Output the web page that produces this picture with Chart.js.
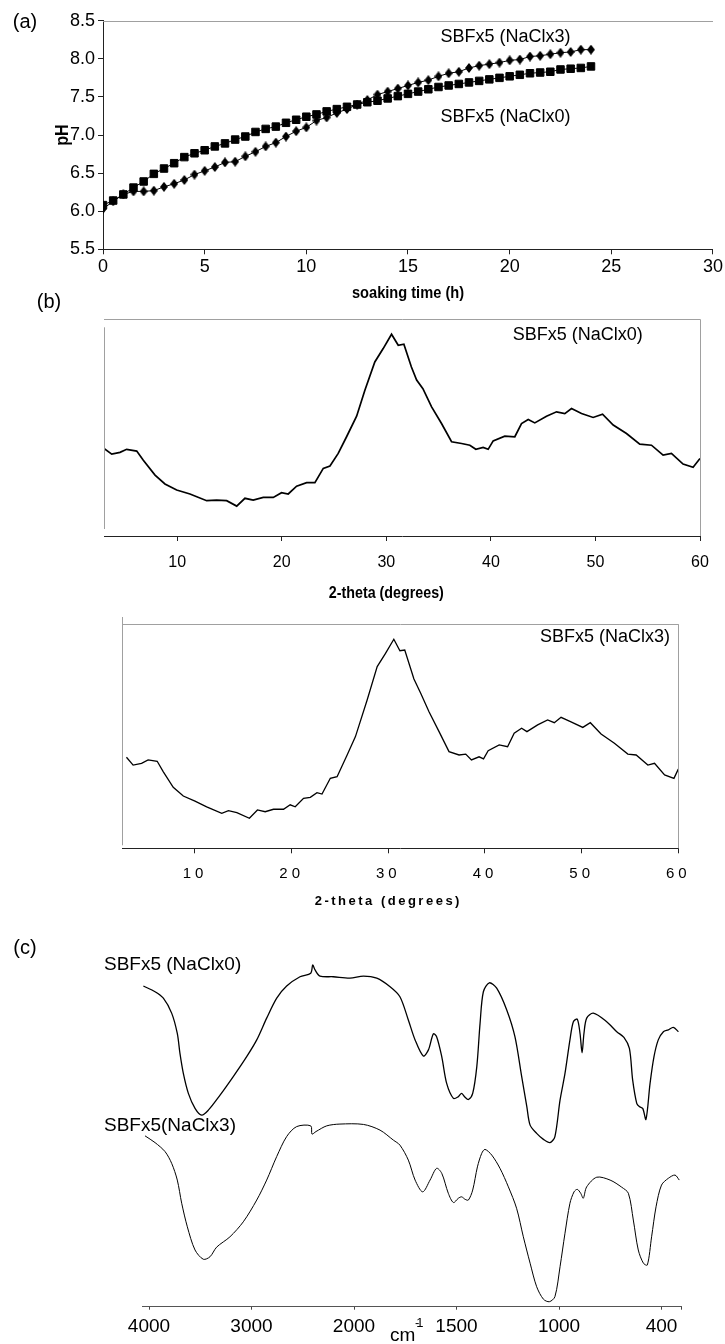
<!DOCTYPE html>
<html>
<head>
<meta charset="utf-8">
<script src="https://cdn.jsdelivr.net/npm/chart.js@4.4.1/dist/chart.umd.min.js"></script>
<style>
  html, body { margin: 0; padding: 0; background: #fff; }
  #page { position: relative; width: 725px; height: 1344px; overflow: hidden; }
  #page canvas { position: absolute; left: 0; }
</style>
</head>
<body>
<div id="page">
  <canvas id="phChart" width="725" height="310" style="top:0px"></canvas>
  <canvas id="xrd0Chart" width="725" height="325" style="top:285px"></canvas>
  <canvas id="xrd3Chart" width="725" height="300" style="top:610px"></canvas>
  <canvas id="irChart" width="725" height="414" style="top:930px"></canvas>
</div>
<script>
// (a) pH vs soaking time
const phTime = [0, 0.5, 1, 1.5, 2, 2.5, 3, 3.5, 4, 4.5, 5, 5.5, 6, 6.5, 7, 7.5, 8, 8.5, 9, 9.5,
  10, 10.5, 11, 11.5, 12, 12.5, 13, 13.5, 14, 14.5, 15, 15.5, 16, 16.5, 17, 17.5, 18, 18.5, 19, 19.5,
  20, 20.5, 21, 21.5, 22, 22.5, 23, 23.5, 24];
const phNaCl0 = [6.08, 6.14, 6.22, 6.31, 6.39, 6.49, 6.56, 6.63, 6.71, 6.76,
  6.80, 6.85, 6.89, 6.94, 6.98, 7.04, 7.08, 7.11, 7.16, 7.20,
  7.24, 7.27, 7.31, 7.34, 7.37, 7.40, 7.43, 7.45, 7.48, 7.51,
  7.54, 7.57, 7.60, 7.63, 7.65, 7.67, 7.69, 7.71, 7.73, 7.75,
  7.77, 7.79, 7.81, 7.82, 7.83, 7.86, 7.87, 7.88, 7.90];
const phNaCl3 = [6.03, 6.13, 6.22, 6.26, 6.26, 6.27, 6.32, 6.36, 6.41, 6.48,
  6.53, 6.58, 6.64, 6.65, 6.72, 6.78, 6.85, 6.90, 6.98, 7.05,
  7.10, 7.19, 7.23, 7.29, 7.34, 7.40, 7.46, 7.53, 7.57, 7.61,
  7.65, 7.69, 7.72, 7.77, 7.81, 7.83, 7.88, 7.91, 7.93, 7.95,
  7.98, 7.99, 8.03, 8.04, 8.06, 8.08, 8.09, 8.12, 8.12];

// (b) XRD patterns
const xrdTicks = [10, 20, 30, 40, 50, 60];
const xrd0Angle = [3.0, 3.74, 4.53, 5.17, 6.13, 6.76, 7.88, 8.83, 9.95,
  11.22, 12.82, 13.77, 14.73, 15.69, 16.48, 17.27, 18.23, 19.19, 19.98,
  20.62, 21.42, 22.38, 23.17, 23.97, 24.61, 25.4, 26.2, 27.16, 27.95,
  28.9, 29.7, 30.5, 31.14, 31.68, 32.4, 32.9, 33.5, 34.33, 35.28,
  36.24, 37.2, 37.99, 38.56, 39.26, 39.74, 40.22, 41.33, 42.29, 42.93,
  43.57, 44.2, 45.32, 46.28, 47.07, 47.71, 48.67, 49.78, 50.68, 51.7,
  52.97, 54.24, 55.36, 56.47, 57.27, 58.38, 59.34, 60.0];
const xrd0Count = [40.4, 37.8, 38.6, 40.0, 39.2, 35.0, 28.1, 24.0, 21.2,
  19.4, 16.3, 16.6, 16.3, 13.8, 17.4, 16.6, 17.8, 17.8, 20.0,
  19.4, 23.0, 24.6, 24.6, 31.2, 32.3, 38.1, 45.8, 55.3, 67.3,
  80.3, 86.5, 93.1, 88.0, 88.5, 78.0, 72.0, 68.0, 59.6, 51.9,
  43.5, 42.7, 41.9, 40.0, 40.9, 40.0, 43.9, 46.1, 45.8, 51.9,
  53.8, 52.2, 55.3, 57.3, 56.5, 58.8, 56.5, 54.7, 56.2, 51.2,
  47.3, 42.4, 41.9, 37.3, 38.1, 33.2, 31.7, 35.8];
const xrd3Angle = [2.91, 3.6, 4.47, 5.15, 6.09, 6.71, 7.75, 8.79, 10.0, 11.21,
  12.77, 13.46, 14.33, 15.63, 16.46, 17.26, 18.12, 19.16, 19.85, 20.37,
  21.23, 21.93, 22.62, 23.14, 24.0, 24.7, 25.74, 26.6, 27.81, 28.85,
  29.71, 30.57, 31.2, 31.7, 32.65, 33.35, 34.21, 35.25, 36.28, 37.32,
  38.01, 38.6, 39.39, 39.85, 40.33, 41.47, 42.34, 43.02, 43.79, 44.34,
  45.45, 46.48, 47.17, 47.87, 48.9, 50.12, 50.9, 52.01, 53.39, 54.78,
  55.64, 56.85, 57.54, 58.58, 59.55, 60.0];
const xrd3Count = [40.6, 37.1, 37.9, 39.4, 38.8, 34.2, 27.2, 23.3, 21.0, 18.5,
  15.6, 16.8, 15.9, 13.4, 17.1, 16.3, 17.4, 17.4, 19.4, 18.5,
  22.3, 22.7, 24.8, 24.2, 31.2, 31.9, 41.6, 49.8, 66.1, 81.0,
  86.9, 93.2, 88.1, 88.4, 75.5, 69.1, 60.9, 52.0, 43.1, 41.6,
  42.0, 39.4, 40.8, 39.9, 43.5, 46.1, 45.3, 51.3, 53.5, 52.0,
  55.0, 57.2, 56.0, 58.4, 56.4, 53.9, 56.0, 51.0, 46.8, 42.0,
  41.6, 37.1, 37.9, 32.7, 31.2, 35.3];

// (c) FTIR spectra (wavenumber axis has evenly spaced, non-linear ticks)
const irTicks = [4000, 3000, 2000, 1500, 1000, 400];
const ir0Wave = [4055, 3941, 3860, 3779, 3724, 3698, 3665, 3616, 3551, 3486,
  3421, 3307, 3178, 3047, 2949, 2852, 2754, 2657, 2527, 2422,
  2403, 2380, 2332, 2202, 2039, 1954, 1889, 1824, 1776, 1735,
  1702, 1662, 1637, 1613, 1597, 1572, 1548, 1515, 1491, 1475,
  1458, 1442, 1421, 1401, 1385, 1369, 1340, 1304, 1255, 1215,
  1182, 1157, 1141, 1109, 1076, 1044, 1020, 994, 965, 936,
  916, 893, 877, 865, 854, 838, 799, 721, 662, 620,
  588, 569, 545, 530, 510, 491, 467, 444, 419, 389,
  360, 331, 301];
const ir0Trans = [89.9, 88.3, 86.5, 82.3, 76.6, 71.0, 65.4, 59.8, 55.6, 53.7,
  55.1, 59.3, 64.5, 70.1, 74.8, 80.9, 86.5, 89.9, 92.5, 93.5,
  95.8, 94.4, 92.7, 92.5, 92.1, 92.7, 92.1, 89.7, 86.9, 80.4,
  74.8, 70.3, 72.0, 76.5, 75.7, 70.1, 62.6, 58.4, 58.9, 59.8,
  58.7, 58.1, 59.8, 67.3, 79.5, 88.3, 90.8, 89.3, 83.2, 75.7,
  64.5, 56.1, 50.9, 48.6, 46.9, 46.0, 47.7, 57.9, 65.4, 74.8,
  79.9, 80.6, 76.6, 71.2, 76.6, 80.9, 82.3, 79.9, 77.1, 75.5,
  72.4, 63.6, 57.0, 56.1, 55.6, 52.5, 62.6, 70.1, 74.8, 77.1,
  77.6, 78.3, 77.1];
const ir3Wave = [4039, 3941, 3844, 3779, 3724, 3681, 3626, 3551, 3470, 3405,
  3340, 3210, 3080, 2949, 2852, 2754, 2657, 2559, 2422, 2410,
  2371, 2266, 2137, 1954, 1873, 1808, 1776, 1735, 1702, 1665,
  1629, 1597, 1572, 1540, 1515, 1491, 1475, 1458, 1442, 1421,
  1398, 1377, 1361, 1328, 1288, 1247, 1207, 1174, 1141, 1109,
  1076, 1047, 1020, 994, 965, 936, 912, 893, 873, 858,
  838, 779, 701, 633, 594, 565, 536, 506, 483, 458,
  432, 400, 360, 321, 296];
const ir3Trans = [47.9, 46.0, 43.5, 40.2, 35.5, 29.0, 22.4, 15.9, 13.3, 14.0,
  16.7, 19.6, 23.8, 29.9, 35.5, 42.1, 47.7, 50.5, 50.7, 48.4,
  49.1, 50.7, 51.2, 51.1, 49.5, 46.7, 45.3, 41.1, 35.5, 32.2,
  35.5, 38.8, 37.4, 31.8, 29.2, 30.4, 30.8, 30.1, 29.9, 32.7,
  39.2, 43.0, 44.1, 42.5, 38.8, 33.6, 27.6, 19.6, 12.2, 5.6,
  2.1, 1.4, 2.8, 11.2, 20.6, 29.0, 32.2, 32.9, 31.8, 30.4,
  33.6, 36.3, 35.5, 33.5, 31.8, 24.3, 15.9, 12.2, 11.7, 19.6,
  28.0, 34.1, 36.0, 36.9, 35.5];

const SANS = '"Liberation Sans", Arial, sans-serif';
const GREY = '#a0a0a0';
const AXIS = '#222';

Chart.defaults.font.family = SANS;
Chart.defaults.color = '#000';

function pairs(xs, ys) {
  return xs.map((x, i) => ({ x: x, y: ys[i] }));
}

// padding that puts the plot area at a fixed place in the canvas
function padFor(canvasW, canvasH, area, xAxisH, yAxisW) {
  return {
    left: area.left - yAxisW,
    top: area.top,
    right: canvasW - area.right,
    bottom: canvasH - area.bottom - xAxisH
  };
}

function text(ctx, s, x, y, font, align, spacing, squeeze) {
  ctx.save();
  ctx.translate(x, y);
  if (squeeze) ctx.scale(squeeze, 1);
  ctx.font = font;
  ctx.fillStyle = '#000';
  ctx.textAlign = align || 'left';
  ctx.textBaseline = 'middle';
  ctx.letterSpacing = spacing || '0px';
  ctx.fillText(s, 0, 0);
  ctx.restore();
}

function line(ctx, x1, y1, x2, y2, color, w) {
  ctx.save();
  ctx.strokeStyle = color;
  ctx.lineWidth = w || 1;
  ctx.beginPath();
  ctx.moveTo(x1, y1);
  ctx.lineTo(x2, y2);
  ctx.stroke();
  ctx.restore();
}

function diamondMarker(w, h) {
  const c = document.createElement('canvas');
  c.width = w;
  c.height = h;
  const g = c.getContext('2d');
  g.fillStyle = '#000';
  g.beginPath();
  g.moveTo(w / 2, 0);
  g.lineTo(w, h / 2);
  g.lineTo(w / 2, h);
  g.lineTo(0, h / 2);
  g.closePath();
  g.fill();
  return c;
}

// wavenumber scale: ticks evenly spaced, linear between neighbouring ticks
function waveToUnit(w) {
  let i = 0;
  while (i < irTicks.length - 2 && w < irTicks[i + 1]) i++;
  return i + (irTicks[i] - w) / (irTicks[i] - irTicks[i + 1]);
}

class WaveScale extends Chart.LinearScale {
  determineDataLimits() {
    this.min = this.options.min;
    this.max = this.options.max;
  }
  buildTicks() {
    return irTicks.map(v => ({ value: v })).concat([{ value: this.max }]);
  }
  getPixelForValue(value) {
    const u0 = waveToUnit(this.min);
    const u1 = waveToUnit(this.max);
    return this.getPixelForDecimal((waveToUnit(value) - u0) / (u1 - u0));
  }
  getValueForPixel(pixel) {
    const u0 = waveToUnit(this.min);
    const u1 = waveToUnit(this.max);
    const u = u0 + this.getDecimalForPixel(pixel) * (u1 - u0);
    const i = Math.max(0, Math.min(irTicks.length - 2, Math.floor(u)));
    return irTicks[i] - (u - i) * (irTicks[i] - irTicks[i + 1]);
  }
}
WaveScale.id = 'wave';
WaveScale.defaults = {};
Chart.register(WaveScale);

// ---------- (a) ----------
const phArea = { left: 103, top: 20.7, right: 713, bottom: 249.3 };
const phDecor = {
  id: 'phDecor',
  afterDraw(chart) {
    const { ctx, chartArea: a, scales: { x, y } } = chart;
    line(ctx, a.left, Math.round(a.top) + 0.5, a.right, Math.round(a.top) + 0.5, GREY, 1);
    text(ctx, '(a)', 25, 22, '20px ' + SANS, 'center');
    text(ctx, 'SBFx5 (NaClx3)', x.getPixelForValue(16.6), y.getPixelForValue(8.29), '18px ' + SANS);
    text(ctx, 'SBFx5 (NaClx0)', x.getPixelForValue(16.6), y.getPixelForValue(7.24), '18px ' + SANS);
    text(ctx, 'soaking time (h)', (a.left + a.right) / 2, a.bottom + 44, 'bold 17px ' + SANS, 'center', '0px', 0.86);
    ctx.save();
    ctx.translate(63, (a.top + a.bottom) / 2);
    ctx.rotate(-Math.PI / 2);
    text(ctx, 'pH', 0, 0, 'bold 18px ' + SANS, 'center', '0px', 0.9);
    ctx.restore();
  }
};

new Chart(document.getElementById('phChart'), {
  type: 'line',
  data: {
    datasets: [
      {
        label: 'SBFx5 (NaClx3)',
        data: pairs(phTime, phNaCl3),
        borderColor: '#000',
        borderWidth: 1,
        pointStyle: diamondMarker(8, 10),
        pointBackgroundColor: '#000',
        pointBorderColor: '#000'
      },
      {
        label: 'SBFx5 (NaClx0)',
        data: pairs(phTime, phNaCl0),
        borderColor: '#000',
        borderWidth: 1,
        pointStyle: 'rect',
        pointRadius: 5.3,
        pointBorderWidth: 1,
        pointBackgroundColor: '#000',
        pointBorderColor: '#000'
      }
    ]
  },
  options: {
    responsive: false,
    animation: false,
    devicePixelRatio: 1,
    layout: { padding: padFor(725, 310, phArea, 310 - phArea.bottom, 103) },
    plugins: { legend: { display: false }, tooltip: { enabled: false } },
    scales: {
      x: {
        type: 'linear',
        min: 0,
        max: 30,
        afterFit: s => { s.height = 310 - phArea.bottom; },
        ticks: { stepSize: 5, padding: 2, font: { size: 18 }, color: '#000', maxRotation: 0 },
        grid: { drawOnChartArea: false, tickLength: 5, color: AXIS },
        border: { color: AXIS }
      },
      y: {
        min: 5.5,
        max: 8.5,
        afterFit: s => { s.width = 103; },
        ticks: { stepSize: 0.5, padding: 3, font: { size: 18 }, color: '#000',
          callback: v => v.toFixed(1) },
        grid: { drawOnChartArea: false, tickLength: 5, color: AXIS },
        border: { color: AXIS }
      }
    }
  },
  plugins: [phDecor]
});

// ---------- (b) upper XRD ----------
const xrd0Area = { left: 104, top: 34.3, right: 700, bottom: 251 };
const xrd0Decor = {
  id: 'xrd0Decor',
  afterDraw(chart) {
    const { ctx, chartArea: a, scales: { x, y } } = chart;
    const top = Math.round(a.top) + 0.5;
    line(ctx, a.left, top, a.right + 0.5, top, GREY, 1);
    line(ctx, Math.round(a.right) + 0.5, top, Math.round(a.right) + 0.5, a.bottom, GREY, 1);
    line(ctx, Math.round(a.left) + 0.5, a.top + 8, Math.round(a.left) + 0.5, a.bottom - 7, GREY, 1);
    text(ctx, '(b)', 49, 17, '20px ' + SANS, 'center');
    text(ctx, 'SBFx5 (NaClx0)', x.getPixelForValue(42.1), y.getPixelForValue(92.8), '18px ' + SANS);
    text(ctx, '2-theta (degrees)', x.getPixelForValue(30), a.bottom + 57.3, 'bold 17px ' + SANS, 'center', '0px', 0.84);
  }
};

new Chart(document.getElementById('xrd0Chart'), {
  type: 'line',
  data: {
    datasets: [{
      label: 'SBFx5 (NaClx0)',
      data: pairs(xrd0Angle, xrd0Count),
      borderColor: '#000',
      borderWidth: 1.7,
      pointRadius: 0,
      tension: 0
    }]
  },
  options: {
    responsive: false,
    animation: false,
    devicePixelRatio: 1,
    layout: { padding: padFor(725, 325, xrd0Area, 325 - xrd0Area.bottom, 0) },
    plugins: { legend: { display: false }, tooltip: { enabled: false } },
    scales: {
      x: {
        type: 'linear',
        min: 3,
        max: 60,
        afterFit: s => { s.height = 325 - xrd0Area.bottom; },
        afterBuildTicks: s => { s.ticks = xrdTicks.map(v => ({ value: v })); },
        ticks: { padding: 12, font: { size: 16 }, color: '#000', autoSkip: false, maxRotation: 0 },
        grid: { drawOnChartArea: false, tickLength: 5, color: AXIS },
        border: { color: AXIS }
      },
      y: { display: false, min: 0, max: 100 }
    }
  },
  plugins: [xrd0Decor]
});

// ---------- (b) lower XRD ----------
const xrd3Area = { left: 122.3, top: 14, right: 678.3, bottom: 238.3 };
const xrd3Decor = {
  id: 'xrd3Decor',
  beforeDraw(chart) {
    chart.ctx.letterSpacing = '4px';
  },
  afterDraw(chart) {
    const { ctx, chartArea: a, scales: { x, y } } = chart;
    ctx.letterSpacing = '0px';
    const top = Math.round(a.top) + 0.5;
    line(ctx, a.left, top, a.right + 0.5, top, GREY, 1);
    line(ctx, Math.round(a.right) + 0.5, top, Math.round(a.right) + 0.5, a.bottom, GREY, 1);
    line(ctx, Math.round(a.left) + 0.5, a.top - 7, Math.round(a.left) + 0.5, a.bottom - 3, GREY, 1);
    text(ctx, 'SBFx5 (NaClx3)', x.getPixelForValue(45.7), y.getPixelForValue(94.3), '18px ' + SANS);
    text(ctx, '2-theta (degrees)', x.getPixelForValue(30), a.bottom + 53.4, 'bold 13px ' + SANS, 'center', '2.5px');
  }
};

new Chart(document.getElementById('xrd3Chart'), {
  type: 'line',
  data: {
    datasets: [{
      label: 'SBFx5 (NaClx3)',
      data: pairs(xrd3Angle, xrd3Count),
      borderColor: '#000',
      borderWidth: 1.3,
      pointRadius: 0,
      tension: 0
    }]
  },
  options: {
    responsive: false,
    animation: false,
    devicePixelRatio: 1,
    layout: { padding: padFor(725, 300, xrd3Area, 300 - xrd3Area.bottom, 0) },
    plugins: { legend: { display: false }, tooltip: { enabled: false } },
    scales: {
      x: {
        type: 'linear',
        min: 2.48,
        max: 60,
        afterFit: s => { s.height = 300 - xrd3Area.bottom; },
        afterBuildTicks: s => { s.ticks = xrdTicks.map(v => ({ value: v })); },
        ticks: { padding: 11.7, font: { size: 15 }, color: '#000', autoSkip: false, maxRotation: 0 },
        grid: { drawOnChartArea: false, tickLength: 5, color: AXIS },
        border: { color: AXIS }
      },
      y: { display: false, min: 0, max: 100 }
    }
  },
  plugins: [xrd3Decor]
});

// ---------- (c) FTIR ----------
const irArea = { left: 142.85, top: 20, right: 681.5, bottom: 376.7 };
const irDecor = {
  id: 'irDecor',
  afterDraw(chart) {
    const { ctx } = chart;
    text(ctx, '(c)', 25, 18, '20px ' + SANS, 'center');
    text(ctx, 'SBFx5 (NaClx0)', 104, 35, '19px ' + SANS);
    text(ctx, 'SBFx5(NaClx3)', 104, 196, '19px ' + SANS);
    text(ctx, 'cm', 390, 406, '19px ' + SANS);
    text(ctx, '-1', 415, 393, '13px ' + SANS, 'left', '-3px');
  }
};

new Chart(document.getElementById('irChart'), {
  type: 'line',
  data: {
    datasets: [
      {
        label: 'SBFx5 (NaClx0)',
        data: pairs(ir0Wave, ir0Trans),
        borderColor: '#000',
        borderWidth: 1.3,
        pointRadius: 0,
        tension: 0.3
      },
      {
        label: 'SBFx5(NaClx3)',
        data: pairs(ir3Wave, ir3Trans),
        borderColor: '#000',
        borderWidth: 1,
        pointRadius: 0,
        tension: 0.3
      }
    ]
  },
  options: {
    responsive: false,
    animation: false,
    devicePixelRatio: 1,
    layout: { padding: padFor(725, 414, irArea, 414 - irArea.bottom, 0) },
    plugins: { legend: { display: false }, tooltip: { enabled: false } },
    scales: {
      x: {
        type: 'wave',
        min: 4060,
        max: 283,
        afterFit: s => { s.height = 414 - irArea.bottom; },
        ticks: {
          padding: 5.6, font: { size: 19 }, color: '#000', autoSkip: false, maxRotation: 0,
          callback: v => (irTicks.includes(v) ? String(v) : '')
        },
        grid: { drawOnChartArea: false, tickLength: 3, color: '#444' },
        border: { color: '#555' }
      },
      y: { display: false, min: 0, max: 100 }
    }
  },
  plugins: [irDecor]
});
</script>
</body>
</html>
